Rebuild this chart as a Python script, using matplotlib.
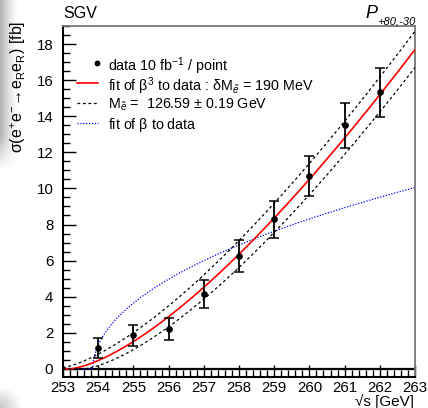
import numpy as np
import matplotlib
matplotlib.use("Agg")
import matplotlib.pyplot as plt
from matplotlib.lines import Line2D
from matplotlib.ticker import MultipleLocator

plt.rcParams["font.family"] = ["Liberation Sans", "DejaVu Sans"]
plt.rcParams["mathtext.fontset"] = "custom"
plt.rcParams["mathtext.rm"] = "Liberation Sans"
plt.rcParams["mathtext.it"] = "Liberation Sans:italic"
plt.rcParams["mathtext.bf"] = "Liberation Sans:bold"

# Threshold scan: measured cross sections per 10 fb^-1 point
sqrt_s = [254, 255, 256, 257, 258, 259, 260, 261, 262]
sigma = [1.17, 1.85, 2.20, 4.16, 6.26, 8.29, 10.68, 13.49, 15.33]
sigma_err = [0.56, 0.57, 0.60, 0.77, 0.90, 1.02, 1.12, 1.27, 1.37]

# Fit results
m_fit = 126.59          # GeV, beta^3 fit
dm_fit = 0.19           # GeV
norm_b3 = 892.0         # fb, beta^3 normalisation
m_beta = 126.925        # GeV, beta fit
norm_b1 = 38.43         # fb, beta normalisation

legend_labels = [
    r"data 10 fb$^{-1}$ / point",
    r"fit of $\mathrm{\beta}^{3}$ to data : $\mathrm{\delta}$M$_{\tilde{e}}$ = 190 MeV",
    r"M$_{\tilde{e}}$ =  126.59 $\pm$ 0.19 GeV",
    r"fit of $\mathrm{\beta}$ to data",
]

x_range = (253, 263)
y_range = (-0.45, 19)

W, H = 428, 408


def beta(e, m):
    return np.sqrt(np.clip(1.0 - (2.0 * m / e) ** 2, 0.0, None))


def fx(px):
    return px / W


def fy(py):
    return 1 - py / H


fig = plt.figure(figsize=(W / 100, H / 100), dpi=100)

# soft grey shading along the left border
bg = fig.add_axes([0, 0, 1, 1], zorder=-5)
yy, xx = np.mgrid[0:H, 0:W]
band = np.clip(1 - xx / 18.0, 0, 1) ** 1.4 * np.clip((170 - yy) / 35.0, 0, 1)
corner = 0.35 * np.clip(1 - np.hypot(xx - 0, yy - 408) / 22.0, 0, 1)
alpha = np.clip(0.45 * band + corner, 0, 1)
img = np.zeros((H, W, 4))
img[..., :3] = 0.35
img[..., 3] = alpha
bg.imshow(img, extent=[0, W, H, 0], aspect="auto", interpolation="bilinear")
bg.set_xlim(0, W)
bg.set_ylim(H, 0)
bg.axis("off")

ax = fig.add_axes([fx(63), fy(377), (415 - 63) / W, (377 - 26) / H])
ax.set_facecolor("none")

red_style = dict(color="red", lw=1.2)
band_style = dict(color="black", lw=0.9, dashes=(2.2, 2.2))
blue_style = dict(color="blue", lw=0.9, ls=(0, (1, 1.3)))

e = np.linspace(x_range[0], x_range[1], 800)
ax.plot(e, norm_b3 * beta(e, m_fit) ** 3, zorder=3, **red_style)
for m in (m_fit - dm_fit, m_fit + dm_fit):
    ax.plot(e, norm_b3 * beta(e, m) ** 3, zorder=3, **band_style)
ax.plot(e, norm_b1 * beta(e, m_beta), zorder=2, **blue_style)

ax.errorbar(sqrt_s, sigma, yerr=sigma_err, fmt="o", color="black", ms=3.8,
            elinewidth=1.3, capsize=3.5, capthick=1.1, zorder=4)

ax.axhline(0, color="black", lw=1.6, zorder=1)

ax.set_xlim(*x_range)
ax.set_ylim(*y_range)
ax.xaxis.set_major_locator(MultipleLocator(1))
ax.xaxis.set_minor_locator(MultipleLocator(0.2))
ax.yaxis.set_major_locator(MultipleLocator(2))
ax.yaxis.set_minor_locator(MultipleLocator(0.5))
ax.tick_params(which="both", direction="in", top=False, right=False,
               labelsize=10.8, color="black")
ax.tick_params(which="major", length=9, width=1)
ax.tick_params(which="minor", length=5, width=1)
ax.tick_params(axis="x", pad=3)
ax.tick_params(axis="y", pad=7)
for s in ("left", "bottom"):
    ax.spines[s].set_linewidth(1.5)
for s in ("top", "right"):
    ax.spines[s].set_linewidth(1.3)
    ax.spines[s].set_color("#777777")

fig.text(fx(18), fy(87),
         r"$\mathrm{\sigma(e^{+}e^{-}\!\rightarrow\! e_{R}e_{R})}$ [fb]",
         fontsize=11.5, rotation=90, ha="center", va="center")
fig.text(fx(414), fy(401), "\u221as [GeV]", fontsize=11,
         ha="right", va="center")

fig.text(fx(63), fy(13), "SGV", fontsize=11.5, va="center", ha="left")
fig.text(fx(377), fy(14), "P", fontsize=13, style="italic",
         va="center", ha="right")
fig.text(fx(416), fy(22), "+80,-30", fontsize=8, style="italic",
         va="center", ha="right")

# legend rows drawn by hand: handle from 77 to 98 px, text from 108 px
rows_px = [63, 83, 103, 123]
handles = [None, red_style, band_style, blue_style]
for y_px, style, label in zip(rows_px, handles, legend_labels):
    if style is None:
        fig.add_artist(Line2D([fx(97)], [fy(y_px)], transform=fig.transFigure,
                              color="black", marker="o", ms=3.2, ls="none"))
    else:
        fig.add_artist(Line2D([fx(77), fx(98)], [fy(y_px), fy(y_px)],
                              transform=fig.transFigure, **style))
    fig.text(fx(108), fy(y_px), label, fontsize=10.3, ha="left",
             va="center_baseline")

fig.savefig("out.png", dpi=100)
